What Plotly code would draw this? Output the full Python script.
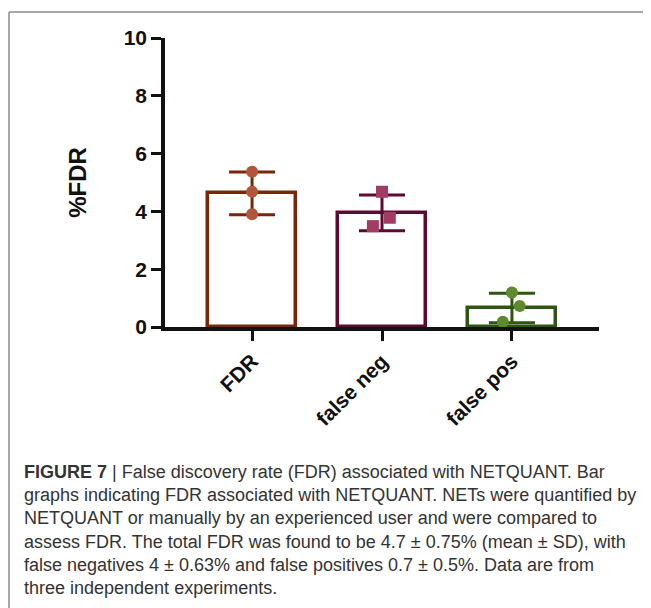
import plotly.graph_objects as go

# ---------------- data ----------------
categories = ["FDR", "false neg", "false pos"]
bar_means = [4.62, 3.95, 0.66]
bar_sd = [0.74, 0.62, 0.51]
# individual experiment values (three per group)
fdr_points = [5.37, 4.68, 3.90]
falseneg_points = [4.68, 3.78, 3.49]
falsepos_points = [1.19, 0.73, 0.18]
# horizontal scatter offsets of the points (style)
fdr_jitter = [0.0, 0.0, 0.0]
falseneg_jitter = [0.0, 0.06, -0.07]
falsepos_jitter = [0.0, 0.06, -0.07]

y_ticks = [0, 2, 4, 6, 8, 10]

caption_lines = [
    "<b>FIGURE 7</b> | False discovery rate (FDR) associated with NETQUANT. Bar",
    "graphs indicating FDR associated with NETQUANT. NETs were quantified by",
    "NETQUANT or manually by an experienced user and were compared to",
    "assess FDR. The total FDR was found to be 4.7 ± 0.75% (mean ± SD), with",
    "false negatives 4 ± 0.63% and false positives 0.7 ± 0.5%. Data are from",
    "three independent experiments.",
]

line_colors = ["#7A2608", "#5C0A32", "#2E5612"]
marker_colors = ["#B0573A", "#A33C64", "#5D8A2E"]
marker_symbols = ["circle", "square", "circle"]

# ---------------- layout geometry (figure pixels; page = figure + 8px body margin) ----------------
W, H = 643, 600
L, R, T, B = 157, 591, 30, 319  # plot area in figure pixels

def px_x(px):
    return (px - L) / (R - L)

def px_y(py):
    return (B - py) / (B - T)

FONT = "Liberation Sans, Arial, sans-serif"

fig = go.Figure()

# bars with error bars
for i, cat in enumerate(categories):
    fig.add_trace(go.Bar(
        x=[i], y=[bar_means[i]], width=0.68,
        marker=dict(color="white", line=dict(color=line_colors[i], width=3.5)),
        error_y=dict(type="data", array=[bar_sd[i]], visible=True,
                     color=line_colors[i], thickness=3, width=23),
        showlegend=False, hoverinfo="skip",
    ))

all_points = [fdr_points, falseneg_points, falsepos_points]
all_jitter = [fdr_jitter, falseneg_jitter, falsepos_jitter]
for i, (pts, jit) in enumerate(zip(all_points, all_jitter)):
    fig.add_trace(go.Scatter(
        x=[i + j for j in jit], y=pts, mode="markers",
        marker=dict(color=marker_colors[i], size=12, symbol=marker_symbols[i],
                    line=dict(width=0)),
        showlegend=False, hoverinfo="skip",
    ))

fig.update_layout(
    width=W, height=H,
    margin=dict(l=L, r=W - R, t=T, b=H - B, pad=0),
    paper_bgcolor="white", plot_bgcolor="white",
    bargap=0,
    font=dict(family=FONT, color="#111"),
    xaxis=dict(
        range=[-0.67, 2.67], tickmode="array", tickvals=[0, 1, 2],
        ticktext=categories, tickangle=-45,
        tickfont=dict(size=21, family=FONT, color="#111", weight="bold"),
        showline=True, linecolor="#111", linewidth=3.5,
        ticks="outside", ticklen=10, tickwidth=3, tickcolor="#111",
        showgrid=False, zeroline=False,
    ),
    yaxis=dict(
        range=[0, 10], tickmode="array", tickvals=y_ticks,
        ticktext=[str(v) for v in y_ticks],
        tickfont=dict(size=21, family=FONT, color="#111", weight="bold"),
        showline=True, linecolor="#111", linewidth=3.5,
        ticks="outside", ticklen=10, tickwidth=3, tickcolor="#111",
        showgrid=False, zeroline=False,
        title=dict(text="<b>%FDR</b>", standoff=31,
                   font=dict(size=24, family=FONT, color="#111")),
    ),
)

# frame lines (top and left)
fig.add_shape(type="line", xref="paper", yref="paper",
              x0=px_x(1), x1=px_x(W + 5), y0=px_y(4), y1=px_y(4),
              line=dict(color="#A8A8A8", width=2))
fig.add_shape(type="line", xref="paper", yref="paper",
              x0=px_x(1), x1=px_x(1), y0=px_y(4), y1=px_y(H + 5),
              line=dict(color="#A8A8A8", width=2))

# caption
baselines = [470, 493, 516, 540, 563, 586]
for line, bl in zip(caption_lines, baselines):
    fig.add_annotation(
        text=line, xref="paper", yref="paper",
        x=px_x(14), y=px_y(bl - 6), xanchor="left", yanchor="middle",
        showarrow=False, align="left",
        font=dict(size=18, family=FONT, color="#333333"),
    )

fig.write_html("out.html")
